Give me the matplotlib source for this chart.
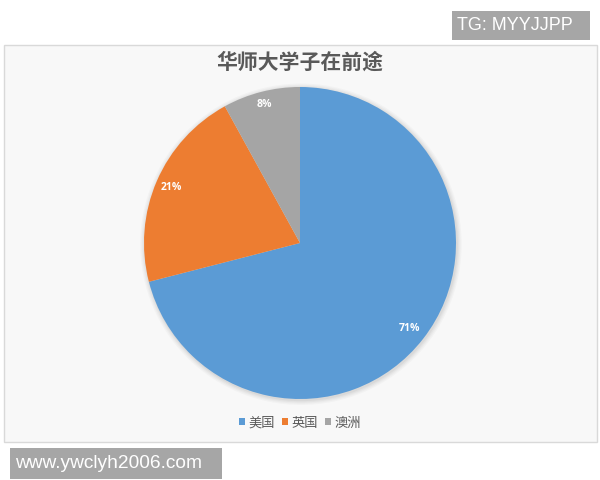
import numpy as np
import matplotlib
matplotlib.use("Agg")
import matplotlib.pyplot as plt
from matplotlib.patches import Rectangle, Circle

plt.rcParams['font.family'] = ['Noto Sans CJK SC', 'DejaVu Sans']

title = "华师大学子在前途"
categories = ["美国", "英国", "澳洲"]
values = [71, 21, 8]
colors = ["#5b9bd5", "#ed7d31", "#a5a5a5"]
label_dist = [0.89, 0.90, 0.915]

W, H = 600, 480
fig = plt.figure(figsize=(6, 4.8), dpi=100)
fig.patch.set_facecolor("white")

def fx(x):
    return x / W

def fy(y):
    return 1 - y / H

# chart frame
frame = Rectangle((fx(4), fy(442)), fx(593), (442 - 45) / H, transform=fig.transFigure,
                  facecolor="#f8f8f8", edgecolor="#d9d9d9", linewidth=1.0, zorder=-5)
fig.patches.append(frame)

# title
fig.text(0.5, fy(62), title, ha="center", va="center", fontsize=15, fontweight="bold",
         color="#595959")

# pie axes
cx, cy, r = 300, 243, 156
pad = 8
ax = fig.add_axes([fx(cx - r - pad), fy(cy + r + pad), 2 * (r + pad) / W, 2 * (r + pad) / H],
                  zorder=2)
ax.set_facecolor("none")
# soft shadow
for k, a in enumerate([0.05, 0.06, 0.08, 0.10]):
    rr = 1.03 - k * 0.008
    ax.add_patch(Circle((0.006, -0.008), rr, facecolor="#8a8a8a", edgecolor="none",
                        alpha=a, zorder=0))
wedges, texts, autotexts = ax.pie(values, colors=colors, startangle=90, counterclock=False,
                                  autopct=lambda p: f"{p:.0f}%", pctdistance=0.9,
                                  wedgeprops=dict(linewidth=0, zorder=1),
                                  textprops=dict(color="white", fontsize=7.5, fontweight="bold",
                                                 family=["Open Sans", "DejaVu Sans"]))
for w, t, d in zip(wedges, autotexts, label_dist):
    mid = np.deg2rad((w.theta1 + w.theta2) / 2)
    t.set_position((d * np.cos(mid), d * np.sin(mid)))
    t.set_zorder(3)
lim = (r + pad) / r
ax.set_xlim(-lim, lim)
ax.set_ylim(-lim, lim)
ax.set_aspect("equal")
ax.axis("off")

# legend
handles = [Rectangle((0, 0), 1, 1, facecolor=c) for c in colors]
fig.legend(handles, categories, loc="center", bbox_to_anchor=(0.5, fy(423)), ncol=3,
           frameon=False, fontsize=9.5, handlelength=0.45, handleheight=0.45, handletextpad=0.2,
           columnspacing=0.6, labelcolor="#595959")

# watermark boxes
fig.patches.append(Rectangle((fx(452), fy(40)), fx(138), 29 / H, transform=fig.transFigure,
                             facecolor="#a6a6a6", edgecolor="none", zorder=5))
fig.text(fx(457), fy(25.5), "TG: MYYJJPP", ha="left", va="center", fontsize=13,
         color="white", family=["Liberation Sans", "DejaVu Sans"], zorder=6)
fig.patches.append(Rectangle((fx(10), fy(479)), fx(212), 31 / H, transform=fig.transFigure,
                             facecolor="#a6a6a6", edgecolor="none", zorder=5))
fig.text(fx(15), fy(463), "www.ywclyh2006.com", ha="left", va="center", fontsize=13.8,
         color="white", family=["Liberation Sans", "DejaVu Sans"], zorder=6)

fig.savefig("out.png", dpi=100)
